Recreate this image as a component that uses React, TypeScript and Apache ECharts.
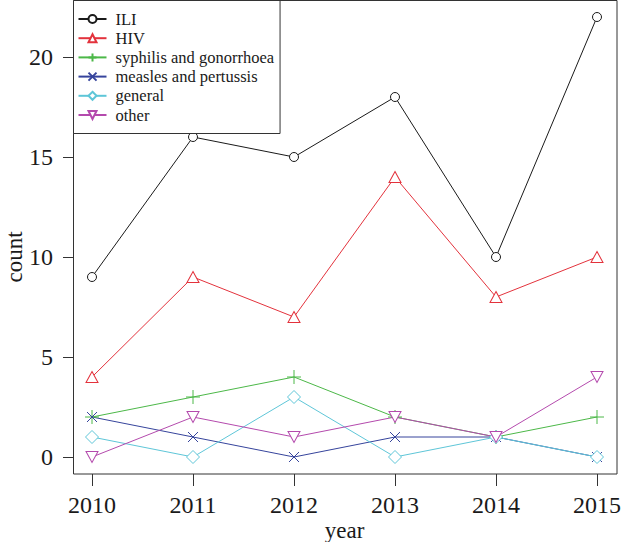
import React, { useEffect, useRef } from "react";
import * as echarts from "echarts";

const years = [2010, 2011, 2012, 2013, 2014, 2015];
const iliValues = [9, 16, 15, 18, 10, 22];
const hivValues = [4, 9, 7, 14, 8, 10];
const syphilisValues = [2, 3, 4, 2, 1, 2];
const measlesValues = [2, 1, 0, 1, 1, 0];
const generalValues = [1, 0, 3, 0, 1, 0];
const otherValues = [0, 2, 1, 2, 1, 4];
const yTicks = [0, 5, 10, 15, 20];

const FONT = "Liberation Serif";

const SYM_CIRCLE = "path://M10,5A5,5,0,1,1,0,5A5,5,0,1,1,10,5Z";
const SYM_TRI = "path://M5,0L10,8.66L0,8.66Z";
const SYM_PLUS = "path://M0,5L10,5M5,0L5,10";
const SYM_X = "path://M0,0L10,10M10,0L0,10";
const SYM_DIAMOND = "path://M5,0L10,5L5,10L0,5Z";
const SYM_INVTRI = "path://M0,0L10,0L5,8.66Z";

const X_OFFSET = 17;
const Y_OFFSET = 19;

export default function App() {
  const ref = useRef<HTMLDivElement>(null);
  useEffect(() => {
    const chart = echarts.init(ref.current!, null, { renderer: "svg" });
    const mk = (
      name: string,
      vals: number[],
      color: string,
      symbol: string,
      size: number | number[]
    ) => ({
      name,
      type: "line",
      data: vals.map((v, i) => [years[i], v]),
      symbol,
      symbolSize: size,
      showSymbol: true,
      clip: false,
      lineStyle: { color, width: 1 },
      itemStyle: { color: "#fff", borderColor: color, borderWidth: 1 },
      emphasis: { disabled: true },
    });
    chart.setOption({
      animation: false,
      backgroundColor: "#fff",
      grid: {
        left: 92,
        right: 25,
        top: 57,
        bottom: 85,
        show: false,
        containLabel: false,
        outerBoundsMode: "none",
      },
      graphic: [
        {
          type: "rect",
          z: -1,
          shape: { x: 73.5, y: 0.5, width: 543.5, height: 473.5 },
          style: { fill: "none", stroke: "#333", lineWidth: 1 },
        },
      ],
      legend: {
        orient: "vertical",
        left: 73.5,
        top: 0.5,
        padding: [10, 6, 10, 4],
        backgroundColor: "#fff",
        borderColor: "#333",
        borderWidth: 1,
        borderRadius: 0,
        itemWidth: 28,
        itemHeight: 10,
        itemGap: 2.2,
        z: 10,
        textStyle: {
          fontFamily: FONT,
          fontSize: 16.5,
          lineHeight: 16,
          color: "#1a1a1a",
          padding: [0, 0, 0, 4],
        },
        data: [
          "ILI",
          "HIV",
          "syphilis and gonorrhoea",
          "measles and pertussis",
          "general",
          "other",
        ],
      },
      xAxis: {
        type: "value",
        min: 2010,
        max: 2015,
        interval: 1,
        offset: X_OFFSET,
        name: "year",
        nameLocation: "middle",
        nameGap: 45,
        nameMoveOverlap: false,
        nameTextStyle: { fontFamily: FONT, fontSize: 23, color: "#1a1a1a" },
        axisLine: { show: false },
        splitLine: { show: false },
        axisTick: { show: false },
        axisLabel: {
          margin: 19,
          fontFamily: FONT,
          fontSize: 24,
          color: "#1a1a1a",
          showMinLabel: true,
          showMaxLabel: true,
          formatter: (v: number) => String(v),
        },
      },
      yAxis: {
        type: "value",
        min: 0,
        max: 20,
        interval: 5,
        offset: Y_OFFSET,
        name: "count",
        nameLocation: "middle",
        nameGap: 47,
        nameMoveOverlap: false,
        nameTextStyle: { fontFamily: FONT, fontSize: 23, color: "#1a1a1a" },
        axisLine: { show: false },
        splitLine: { show: false },
        axisTick: { show: false },
        axisLabel: {
          margin: 20,
          fontFamily: FONT,
          fontSize: 24,
          color: "#1a1a1a",
        },
      },
      series: [
        mk("ILI", iliValues, "#1a1a1a", SYM_CIRCLE, 9),
        mk("HIV", hivValues, "#e3323c", SYM_TRI, [12, 11]),
        mk("syphilis and gonorrhoea", syphilisValues, "#4cb848", SYM_PLUS, 14),
        mk("measles and pertussis", measlesValues, "#36449c", SYM_X, 10),
        mk("general", generalValues, "#5ec6d8", SYM_DIAMOND, 13),
        mk("other", otherValues, "#b44aad", SYM_INVTRI, [12, 11]),
        {
          name: "xticks",
          type: "custom",
          silent: true,
          clip: false,
          data: years.map((y) => [y, 0]),
          renderItem: (params: any, api: any) => {
            const p = api.coord([api.value(0), 0]);
            const y0 = Math.round(p[1] + X_OFFSET);
            const x = Math.round(p[0]) + 0.5;
            return {
              type: "line",
              shape: { x1: x, y1: y0, x2: x, y2: y0 + 12 },
              style: { stroke: "#333", lineWidth: 1 },
            };
          },
        },
        {
          name: "yticks",
          type: "custom",
          silent: true,
          clip: false,
          data: yTicks.map((v) => [2010, v]),
          renderItem: (params: any, api: any) => {
            const p = api.coord([2010, api.value(1)]);
            const x0 = Math.round(p[0] - Y_OFFSET);
            const y = Math.round(p[1]) + 0.5;
            return {
              type: "line",
              shape: { x1: x0 - 10, y1: y, x2: x0, y2: y },
              style: { stroke: "#333", lineWidth: 1 },
            };
          },
        },
      ],
    });
    return () => chart.dispose();
  }, []);
  return (
    <div
      ref={ref}
      style={{ position: "absolute", left: 0, top: 0, width: 622, height: 542 }}
    />
  );
}
